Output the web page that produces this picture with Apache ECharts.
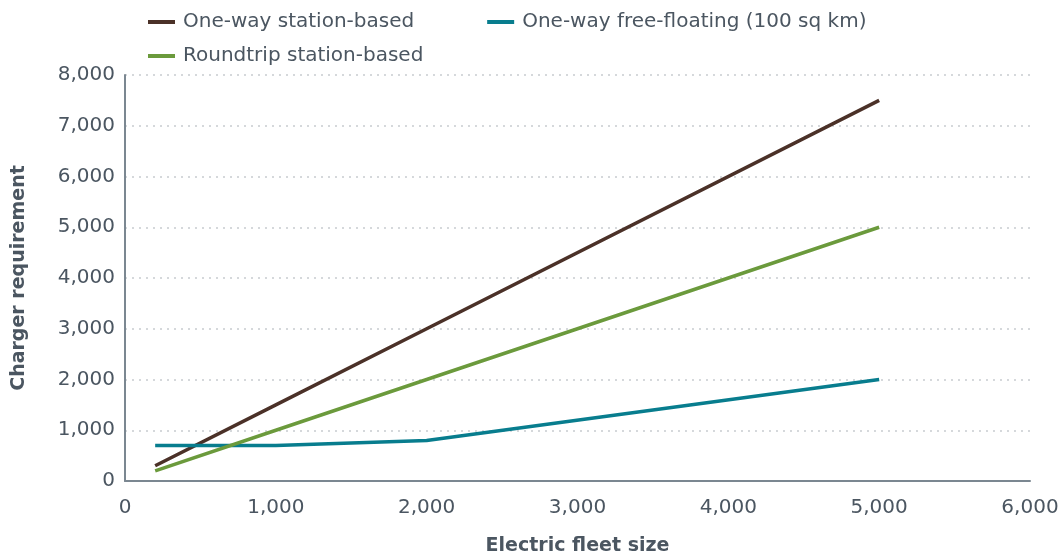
<!DOCTYPE html>
<html><head><meta charset="utf-8">
<script src="https://cdn.jsdelivr.net/npm/echarts@6/dist/echarts.min.js"></script>
<style>html,body{margin:0;padding:0;background:#fff}#c{width:1063px;height:557px}</style>
</head><body><div id="c"></div>
<script>
const fleetSize = [200, 1000, 2000, 5000];
const oneWayStation = [300, 1500, 3000, 7500];
const freeFloating = [700, 700, 800, 2000];
const roundtrip = [200, 1000, 2000, 5000];
const seriesNames = ['One-way station-based', 'One-way free-floating (100 sq km)', 'Roundtrip station-based'];
const colors = ['#4b3128', '#087d8e', '#6b9a3c'];
const textColor = '#4b5661';
const font = 'DejaVu Sans';
function pairs(ys){ return fleetSize.map((x,i)=>[x, ys[i]]); }
const chart = echarts.init(document.getElementById('c'));
const legendCommon = {
  left: 143, icon: 'rect', itemWidth: 27, itemHeight: 4, itemGap: 73,
  textStyle: {color: textColor, fontSize: 20, fontFamily: font, padding: [0,0,0,3]}
};
chart.setOption({
  animation: false,
  color: colors,
  legend: [
    Object.assign({top: 7, data: [seriesNames[0], seriesNames[1]]}, legendCommon),
    Object.assign({top: 41, data: [seriesNames[2]]}, legendCommon)
  ],
  grid: {left: 125, right: 33, top: 75, bottom: 76, outerBoundsMode: 'none', containLabel: false},
  xAxis: {
    type: 'value', min: 0, max: 6000, interval: 1000,
    name: 'Electric fleet size', nameLocation: 'middle', nameGap: 56,
    nameTextStyle: {color: textColor, fontSize: 19, fontWeight: 'bold', fontFamily: font},
    axisLine: {show: true, lineStyle: {color: '#7b8791', width: 2}},
    axisTick: {show: false},
    splitLine: {show: false},
    axisLabel: {color: textColor, fontSize: 20, fontFamily: font, margin: 17,
      formatter: v => v.toLocaleString('en-US')}
  },
  yAxis: {
    type: 'value', min: 0, max: 8000, interval: 1000,
    name: 'Charger requirement', nameLocation: 'middle', nameGap: 96,
    nameTextStyle: {color: textColor, fontSize: 19, fontWeight: 'bold', fontFamily: font},
    axisLine: {show: true, lineStyle: {color: '#7b8791', width: 2}},
    axisTick: {show: false},
    splitLine: {show: true, lineStyle: {color: '#c8ccd0', type: [2, 5], width: 1.5}},
    axisLabel: {color: textColor, fontSize: 20, fontFamily: font, margin: 10,
      formatter: v => v.toLocaleString('en-US')}
  },
  series: [
    {name: seriesNames[0], type: 'line', data: pairs(oneWayStation), showSymbol: false, lineStyle: {width: 3.5}},
    {name: seriesNames[1], type: 'line', data: pairs(freeFloating), showSymbol: false, lineStyle: {width: 3.5}},
    {name: seriesNames[2], type: 'line', data: pairs(roundtrip), showSymbol: false, lineStyle: {width: 3.5}}
  ]
});
</script></body></html>
